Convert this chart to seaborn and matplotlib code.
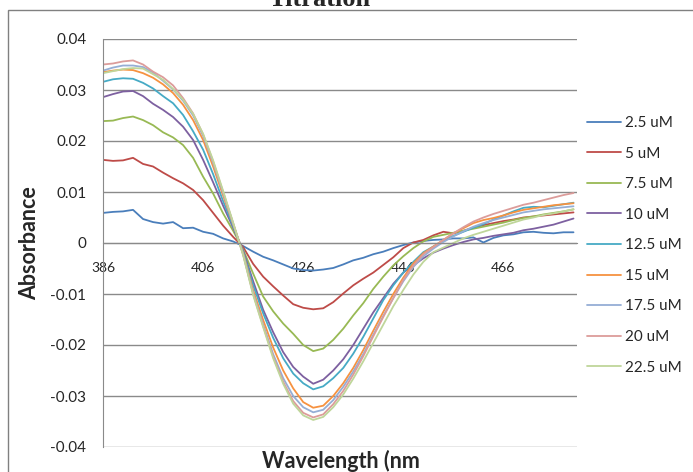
import numpy as np
import pandas as pd
import matplotlib
matplotlib.use("Agg")
import matplotlib.pyplot as plt
import seaborn as sns
from matplotlib.patches import Rectangle

wavelength = list(range(386, 481, 2))

conc_labels = ["2.5 uM", "5 uM", "7.5 uM", "10 uM", "12.5 uM", "15 uM", "17.5 uM", "20 uM", "22.5 uM"]

abs_2_5 = [0.0059, 0.0061, 0.0062, 0.0065, 0.0047, 0.0041, 0.0038, 0.0041, 0.0029, 0.0030, 0.0022, 0.0018,
           0.0009, 0.0003, -0.0006, -0.0017, -0.0027, -0.0034, -0.0042, -0.0050, -0.0053, -0.0054, -0.0052, -0.0049,
           -0.0042, -0.0034, -0.0029, -0.0022, -0.0017, -0.0010, -0.0004, 0.0001, 0.0004, 0.0006, 0.0007, 0.0009,
           0.0009, 0.0011, 0.0001, 0.0010, 0.0015, 0.0017, 0.0021, 0.0022, 0.0020, 0.0019, 0.0021, 0.0021]
abs_5 = [0.0163, 0.0161, 0.0162, 0.0167, 0.0155, 0.0150, 0.0138, 0.0127, 0.0117, 0.0104, 0.0084, 0.0059,
         0.0034, 0.0012, -0.0008, -0.0041, -0.0066, -0.0085, -0.0103, -0.0120, -0.0127, -0.0130, -0.0128, -0.0116,
         -0.0099, -0.0083, -0.0070, -0.0058, -0.0043, -0.0028, -0.0010, 0.0001, 0.0006, 0.0015, 0.0022, 0.0019,
         0.0024, 0.0030, 0.0035, 0.0039, 0.0043, 0.0046, 0.0050, 0.0052, 0.0054, 0.0056, 0.0058, 0.0060]
abs_7_5 = [0.0239, 0.0240, 0.0245, 0.0248, 0.0241, 0.0231, 0.0217, 0.0207, 0.0192, 0.0167, 0.0130, 0.0097,
           0.0058, 0.0024, -0.0013, -0.0060, -0.0105, -0.0134, -0.0158, -0.0178, -0.0200, -0.0212, -0.0207, -0.0190,
           -0.0168, -0.0142, -0.0118, -0.0090, -0.0066, -0.0044, -0.0026, -0.0010, 0.0003, 0.0012, 0.0016, 0.0020,
           0.0024, 0.0028, 0.0032, 0.0036, 0.0040, 0.0045, 0.0049, 0.0052, 0.0056, 0.0059, 0.0062, 0.0066]
abs_10 = [0.0286, 0.0292, 0.0297, 0.0298, 0.0288, 0.0273, 0.0261, 0.0247, 0.0228, 0.0202, 0.0163, 0.0119,
          0.0073, 0.0030, -0.0015, -0.0075, -0.0131, -0.0175, -0.0214, -0.0243, -0.0262, -0.0276, -0.0268, -0.0250,
          -0.0228, -0.0200, -0.0168, -0.0136, -0.0108, -0.0080, -0.0058, -0.0044, -0.0030, -0.0019, -0.0011, -0.0004,
          0.0002, 0.0007, 0.0010, 0.0014, 0.0017, 0.0020, 0.0025, 0.0028, 0.0032, 0.0036, 0.0042, 0.0048]
abs_12_5 = [0.0316, 0.0321, 0.0323, 0.0322, 0.0314, 0.0303, 0.0288, 0.0274, 0.0251, 0.0219, 0.0183, 0.0135,
            0.0082, 0.0033, -0.0017, -0.0083, -0.0138, -0.0186, -0.0226, -0.0256, -0.0275, -0.0287, -0.0281, -0.0265,
            -0.0245, -0.0217, -0.0184, -0.0148, -0.0112, -0.0083, -0.0058, -0.0037, -0.0018, -0.0007, 0.0005, 0.0014,
            0.0022, 0.0030, 0.0037, 0.0046, 0.0054, 0.0062, 0.0069, 0.0071, 0.0070, 0.0073, 0.0076, 0.0079]
abs_15 = [0.0335, 0.0338, 0.0340, 0.0339, 0.0333, 0.0324, 0.0311, 0.0294, 0.0271, 0.0241, 0.0202, 0.0150,
          0.0093, 0.0037, -0.0020, -0.0093, -0.0151, -0.0205, -0.0250, -0.0285, -0.0312, -0.0323, -0.0319, -0.0300,
          -0.0275, -0.0245, -0.0210, -0.0172, -0.0135, -0.0100, -0.0068, -0.0040, -0.0020, -0.0007, 0.0006, 0.0019,
          0.0029, 0.0039, 0.0045, 0.0049, 0.0054, 0.0060, 0.0065, 0.0068, 0.0071, 0.0074, 0.0076, 0.0078]
abs_17_5 = [0.0338, 0.0344, 0.0348, 0.0348, 0.0345, 0.0334, 0.0318, 0.0301, 0.0279, 0.0250, 0.0210, 0.0157,
            0.0098, 0.0038, -0.0022, -0.0098, -0.0160, -0.0218, -0.0265, -0.0300, -0.0322, -0.0332, -0.0327, -0.0308,
            -0.0282, -0.0252, -0.0218, -0.0180, -0.0143, -0.0108, -0.0075, -0.0047, -0.0026, -0.0011, 0.0002, 0.0013,
            0.0023, 0.0032, 0.0039, 0.0045, 0.0050, 0.0055, 0.0060, 0.0063, 0.0066, 0.0068, 0.0070, 0.0072]
abs_20 = [0.0350, 0.0352, 0.0356, 0.0358, 0.0350, 0.0336, 0.0325, 0.0309, 0.0284, 0.0254, 0.0213, 0.0160,
          0.0100, 0.0039, -0.0023, -0.0100, -0.0163, -0.0223, -0.0272, -0.0310, -0.0333, -0.0342, -0.0336, -0.0316,
          -0.0290, -0.0258, -0.0222, -0.0183, -0.0145, -0.0108, -0.0072, -0.0044, -0.0022, -0.0008, 0.0006, 0.0019,
          0.0031, 0.0042, 0.0050, 0.0057, 0.0063, 0.0069, 0.0075, 0.0079, 0.0084, 0.0089, 0.0094, 0.0098]
abs_22_5 = [0.0333, 0.0337, 0.0341, 0.0343, 0.0342, 0.0331, 0.0320, 0.0302, 0.0281, 0.0253, 0.0214, 0.0162,
            0.0102, 0.0040, -0.0024, -0.0102, -0.0165, -0.0226, -0.0276, -0.0315, -0.0338, -0.0347, -0.0341, -0.0322,
            -0.0297, -0.0266, -0.0232, -0.0196, -0.0160, -0.0124, -0.0092, -0.0062, -0.0037, -0.0018, -0.0009, 0.0000,
            0.0009, 0.0016, 0.0022, 0.0028, 0.0034, 0.0040, 0.0046, 0.0050, 0.0055, 0.0058, 0.0062, 0.0066]

series = [abs_2_5, abs_5, abs_7_5, abs_10, abs_12_5, abs_15, abs_17_5, abs_20, abs_22_5]

x_ticks = [386, 406, 426, 446, 466]
y_ticks = [-0.04, -0.03, -0.02, -0.01, 0, 0.01, 0.02, 0.03, 0.04]
y_tick_labels = ["-0.04", "-0.03", "-0.02", "-0.01", "0", "0.01", "0.02", "0.03", "0.04"]

colors = ["#4A7EBB", "#BE4B48", "#98B954", "#7D60A0", "#46AAC5", "#F69240",
          "#95AED5", "#DC9C9A", "#BFD69A"]

frames = []
for lab, vals in zip(conc_labels, series):
    frames.append(pd.DataFrame({"Wavelength": wavelength, "Absorbance": vals, "Conc": lab}))
df = pd.concat(frames, ignore_index=True)

sns.set_style("white")
plt.rcParams["font.family"] = ["Lato", "DejaVu Sans"]

fig = plt.figure(figsize=(6.93, 4.72), dpi=100)
ax = fig.add_axes([103/693, 1-447/472, (577-103)/693, (447-39)/472])

sns.lineplot(data=df, x="Wavelength", y="Absorbance", hue="Conc", hue_order=conc_labels,
             palette=colors, linewidth=1.3, ax=ax, legend=True)

ax.set_xlim(386, 480.7)
ax.set_ylim(-0.04, 0.04)
ax.set_yticks(y_ticks)
ax.set_yticklabels(y_tick_labels, fontsize=11)
ax.set_xticks(x_ticks)
ax.set_xticklabels([str(t) for t in x_ticks], fontsize=11)
ax.yaxis.grid(True, color="#8a8a8a", linewidth=1.0)
ax.set_axisbelow(True)
for s in ["top", "right"]:
    ax.spines[s].set_visible(False)
ax.spines["left"].set_color("#8a8a8a")
ax.spines["bottom"].set_position(("data", 0))
ax.spines["bottom"].set_color("#8a8a8a")
ax.tick_params(axis="y", length=5, color="#8a8a8a", direction="out", pad=7)
ax.tick_params(axis="x", length=5, color="#8a8a8a", direction="out", pad=9)
ax.set_xlabel("")
ax.set_ylabel("")

fig.text(30/693, 1-243/472, "Absorbance", rotation=90, fontsize=15.5, fontweight="bold",
         ha="center", va="center")
fig.text(341/693, 1-461/472, "Wavelength (nm", fontsize=15.5, fontweight="bold",
         ha="center", va="center")
fig.text(320/693, 1-6/472, "Titration", fontsize=19, fontweight="bold",
         family=["Liberation Serif", "DejaVu Serif"], ha="center", va="baseline")

handles, labels = ax.get_legend_handles_labels()
ax.legend(handles, labels, loc="upper left", bbox_to_anchor=(587/693, 1-116/472),
          bbox_transform=fig.transFigure, frameon=False, fontsize=11,
          handlelength=2.22, handletextpad=0.26, labelspacing=1.085,
          borderpad=0, borderaxespad=0)

fig.add_artist(Rectangle((8/693, -0.1), 1.2, 1.1 - 10/472, transform=fig.transFigure,
                         fill=False, edgecolor="#808080", linewidth=1.0))

fig.savefig("out.png", dpi=100)
